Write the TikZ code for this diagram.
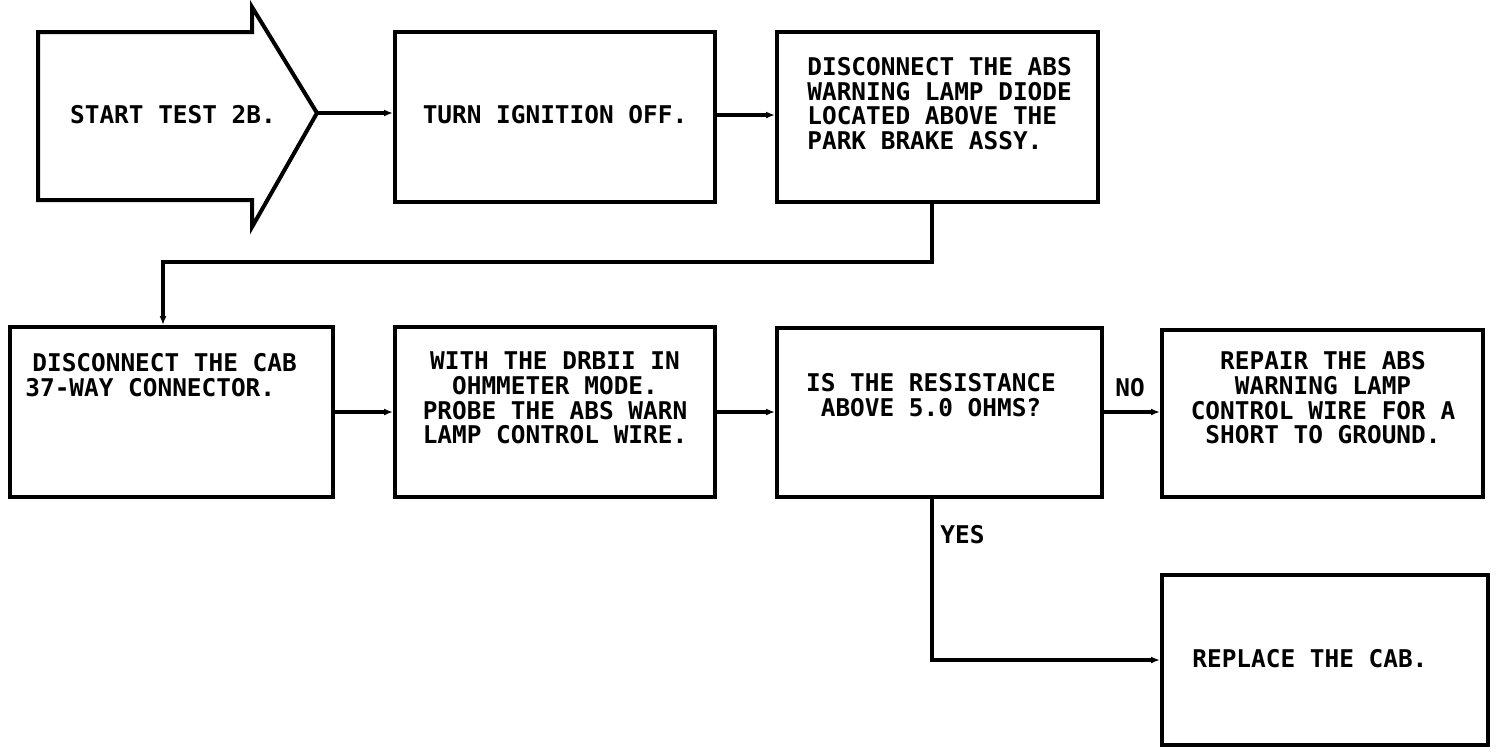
\documentclass[tikz,border=0pt]{standalone}
\usepackage{fontspec}
\setmonofont{DejaVu Sans Mono}
\usetikzlibrary{arrows.meta}
\tikzset{
  box/.style={draw, line width=2pt, rectangle, inner sep=0pt, fill=white},
  txt/.style={inner sep=0pt, font=\ttfamily\bfseries\fontsize{12.2}{12.3}\selectfont},
  conn/.style={line width=1.8pt, -{Latex[length=4.5pt,width=3.5pt]}},
}
\begin{document}
\begin{tikzpicture}[x=0.5pt,y=-0.5pt]
\useasboundingbox (0,0) rectangle (1504,752);
% start arrow
\draw[line width=2pt, line join=miter] (38,32) -- (252,32) -- (252,7) -- (317,113) -- (252,227) -- (252,200) -- (38,200) -- cycle;
\coordinate (tip) at (317,113);
\node[txt] (tstart) at (173,115) {START TEST 2B.};
% boxes
\node[box, minimum width=160pt, minimum height=85pt] (b2) at (555,117) {};
\node[box, minimum width=160.5pt, minimum height=85pt] (b3) at (937.5,117) {};
\node[box, minimum width=161.5pt, minimum height=85pt] (b4) at (171.5,412) {};
\node[box, minimum width=160pt, minimum height=85pt] (b5) at (555,412) {};
\node[box, minimum width=162.5pt, minimum height=84.5pt] (b6) at (939.5,412.5) {};
\node[box, minimum width=160.5pt, minimum height=83.5pt] (b7) at (1322.5,413.5) {};
\node[box, minimum width=163pt, minimum height=85pt] (b8) at (1325,660) {};
% texts
\node[txt] (t2) at (555,115) {TURN IGNITION OFF.};
\node[txt, anchor=west, align=left] (t3) at (807,103.5) {DISCONNECT THE ABS\\WARNING LAMP DIODE\\LOCATED ABOVE THE\\PARK BRAKE ASSY.};
\node[txt, anchor=west, align=left] (t4) at (25,375) {\hspace*{3.5pt}DISCONNECT THE CAB\\37-WAY CONNECTOR.};
\node[txt, align=center] (t5) at (555,398) {WITH THE DRBII IN\\OHMMETER MODE.\\PROBE THE ABS WARN\\LAMP CONTROL WIRE.};
\node[txt, align=center] (t6) at (931,395) {IS THE RESISTANCE\\ABOVE 5.0 OHMS?};
\node[txt, align=center] (t7) at (1323,398) {REPAIR THE ABS\\WARNING LAMP\\CONTROL WIRE FOR A\\SHORT TO GROUND.};
\node[txt, anchor=west] (t8) at (1192,659) {REPLACE THE CAB.};
\node[txt] (lno) at (1130,388) {NO};
\node[txt, anchor=west] (lyes) at (940,535) {YES};
% connectors
\draw[conn] (tip) -- (tip -| b2.west);
\draw[conn] (b2.east |- 0,115) -- (b3.west |- 0,115);
\draw[conn] (b3.south -| 932,0) -- (932,262) -| (b4.north -| 163,0);
\draw[conn] (b4.east) -- (b5.west);
\draw[conn] (b5.east) -- (b6.west |- b5.east);
\draw[conn] (b6.east |- b5.east) -- (b7.west |- b5.east);
\draw[conn] (b6.south -| 932,0) |- (b8.west);
\end{tikzpicture}
\end{document}
